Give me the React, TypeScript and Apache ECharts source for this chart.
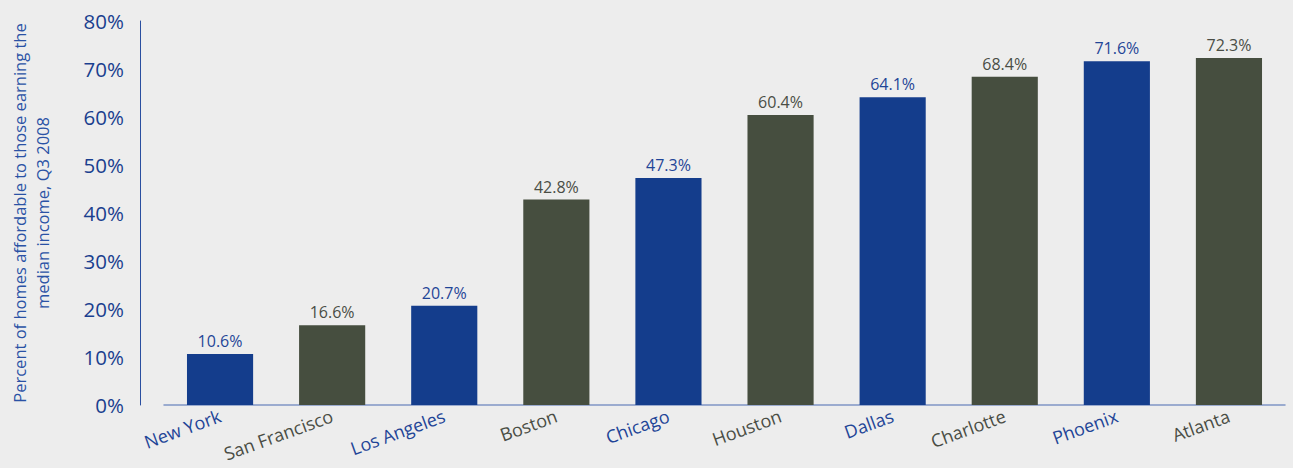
import React, { useEffect, useRef } from "react";
import * as echarts from "echarts";

const cities = ["New York", "San Francisco", "Los Angeles", "Boston", "Chicago", "Houston", "Dallas", "Charlotte", "Phoenix", "Atlanta"];
const values = [10.6, 16.6, 20.7, 42.8, 47.3, 60.4, 64.1, 68.4, 71.6, 72.3];
const yTicks = [0, 10, 20, 30, 40, 50, 60, 70, 80];

const BLUE = "#143d8c";
const GRAY = "#464e3f";
const LABEL_BLUE = "#1f4597";
const LABEL_GRAY = "#4a4d45";
const FONT = "'Open Sans', 'Noto Sans', sans-serif";

export default function App() {
  const ref = useRef<HTMLDivElement>(null);
  useEffect(() => {
    document.body.style.margin = "0";
    const chart = echarts.init(ref.current!, null, { renderer: "svg" });
    chart.setOption({
      animation: false,
      backgroundColor: "#ededed",
      grid: { left: 156, right: 8, top: 21, bottom: 63, containLabel: false },
      xAxis: {
        type: "category",
        data: cities,
        axisLine: { show: true, lineStyle: { color: "#7f95c5", width: 1.5 } },
        axisTick: { show: false },
        axisLabel: {
          rotate: 20,
          margin: 10,
          fontSize: 18,
          fontFamily: FONT,
          color: (_v: string, i: number) => (i % 2 === 0 ? LABEL_BLUE : LABEL_GRAY),
        },
      },
      yAxis: {
        type: "value",
        min: yTicks[0],
        max: yTicks[yTicks.length - 1],
        interval: 10,
        offset: 24,
        name: "Percent of homes affordable to those earning the\nmedian income, Q3 2008",
        nameLocation: "middle",
        nameRotate: 90,
        nameGap: 86,
        nameTextStyle: { fontSize: 16.5, fontFamily: FONT, color: "#2a52a5", lineHeight: 23 },
        axisLine: { show: true, lineStyle: { color: "#2a4fa0", width: 1 } },
        axisTick: { show: false },
        splitLine: { show: false },
        axisLabel: {
          formatter: "{value}%",
          fontSize: 20.5,
          fontFamily: FONT,
          color: "#1a3f8f",
          margin: 16,
        },
      },
      series: [
        {
          type: "bar",
          barWidth: "59%",
          data: values.map((v, i) => ({
            value: v,
            itemStyle: { color: i % 2 === 0 ? BLUE : GRAY },
            label: { color: i % 2 === 0 ? LABEL_BLUE : LABEL_GRAY },
          })),
          label: {
            show: true,
            position: "top",
            distance: 5,
            fontSize: 16,
            fontFamily: FONT,
            formatter: (p: any) => p.value.toFixed(1) + "%",
          },
        },
      ],
    });
    return () => chart.dispose();
  }, []);
  return <div ref={ref} style={{ width: 1293, height: 468, position: "fixed", left: 0, top: 0 }} />;
}
